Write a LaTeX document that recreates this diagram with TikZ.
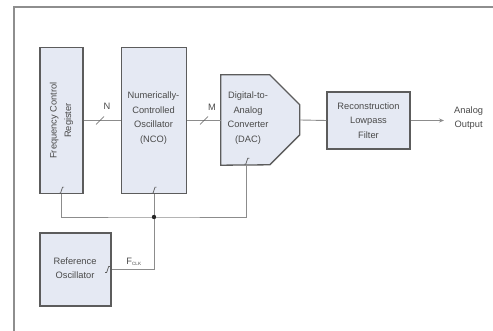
\documentclass[tikz,border=0pt]{standalone}
\usepackage{fontspec}
\setmainfont{Liberation Sans}
\usetikzlibrary{arrows.meta,calc}
\definecolor{boxfill}{HTML}{E5E9F3}
\definecolor{boxline}{HTML}{5C5C5C}
\definecolor{wire}{HTML}{8C8C8C}
\definecolor{txt}{HTML}{4A4A4A}
\definecolor{frame}{HTML}{8E8E8E}
\tikzset{
  blk/.style={draw=boxline, fill=boxfill, line width=1.3pt, inner sep=0pt},
  lbl/.style={text=txt, font=\fontsize{9.3}{14.5}\selectfont, align=center, inner sep=0pt},
  wireline/.style={draw=wire, line width=0.9pt},
  clk/.style={draw=boxline, line width=0.7pt},
}
\newcommand{\clockmark}[1]{\draw[clk] ($(#1)+(-2.5,3)$) -- ($(#1)+(-1,3)$) -- ($(#1)+(1,-3)$) -- ($(#1)+(2.5,-3)$);}
\newcommand{\busslash}[1]{\draw[clk] ($(#1)+(-4,4)$) -- ($(#1)+(4,-4)$);}
\begin{document}
\begin{tikzpicture}[x=1pt,y=-1pt]
\useasboundingbox (0,0) rectangle (493,331);
% frame
\draw[frame, line width=1.6pt] (14,331) -- (14,7) -- (493,7);
% blocks
\node[blk, minimum width=43pt, minimum height=146pt] (fcr) at (61.5,120.5) {};
\node[lbl, rotate=90] (fcrt) at (fcr.center) {Frequency Control\\Register};
\node[blk, minimum width=65pt, minimum height=146pt] (nco) at (154,120.5) {};
\node[lbl] (ncot) at (153.5,118) {Numerically-\\Controlled\\Oscillator\\(NCO)};
\node[minimum width=79pt, minimum height=90pt, inner sep=0pt] (dac) at (260.5,120) {};
\draw[blk] (dac.north west) -- ++(49,0) -- ++(30,30) -- ++(0,30) -- ++(-30,30) -- (dac.south west) -- cycle;
\node[lbl] (dact) at (248,118) {Digital-to-\\Analog\\Converter\\(DAC)};
\node[blk, minimum width=83pt, minimum height=57pt] (lpf) at (368.5,120.5) {};
\node[lbl] (lpft) at (lpf.center) {Reconstruction\\Lowpass\\Filter};
\node[blk, minimum width=71pt, minimum height=73pt] (ref) at (75.5,269.5) {};
\node[lbl] (reft) at (75,268) {Reference\\Oscillator};
% signal path
\coordinate (out) at (444,120.5);
\draw[wireline] (fcr.east) -- (nco.west);
\draw[wireline] (nco.east) -- (nco.east -| dac.west);
\draw[wireline] (dac.east) -- (lpf.west);
\draw[wireline, -{Stealth[length=5pt,width=4pt]}] (lpf.east) -- (out);
\node[lbl, anchor=west] (aout) at (454,118) {Analog\\Output};
\coordinate (ns) at (100,120.5);
\coordinate (ms) at (204,120.5);
\busslash{ns}
\busslash{ms}
\node[lbl] (nlab) at (107,106) {N};
\node[lbl] (mlab) at (212,107) {M};
% clock distribution
\coordinate (j) at (nco.south |- 0,217);
\coordinate (dck) at ($(dac.south west)+(26,0)$);
\draw[wireline] (fcr.south) |- (j) -| (dck);
\draw[wireline] (nco.south) -- (j);
\draw[wireline] (j) |- (ref.east);
\fill[black!85] (j) circle (2.2pt);
\node[lbl] (flab) at (134,262) {F$_{\scriptscriptstyle\mathrm{CLK}}$};
% clock marks
\coordinate (c1) at ($(fcr.south)+(0,-4)$);
\coordinate (c2) at ($(nco.south)+(0,-4)$);
\coordinate (c3) at ($(dck)+(0,-4)$);
\coordinate (c4) at ($(ref.east)+(-4,0)$);
\clockmark{c1}
\clockmark{c2}
\clockmark{c3}
\clockmark{c4}
\end{tikzpicture}
\end{document}
